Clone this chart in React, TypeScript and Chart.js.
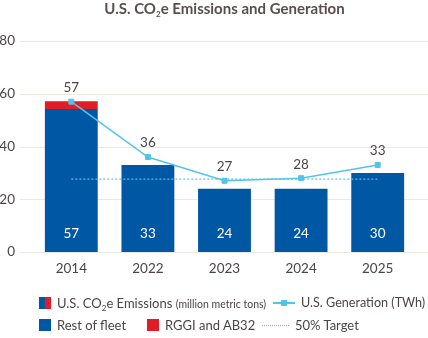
import React, { useEffect, useRef } from "react";
import { Chart, registerables } from "chart.js";

Chart.register(...registerables);

const years = ["2014", "2022", "2023", "2024", "2025"];
const restOfFleet = [54.2, 33, 24, 24, 30];
const rggiAb32 = [3.0, 0, 0, 0, 0];
const generation = [57, 36, 27, 28, 33];
const target = [27.6, 27.6, 27.6, 27.6, 27.6];
const yTicks = [0, 20, 40, 60, 80];

const BLUE = "#0058a5";
const RED = "#e21c26";
const LIGHT = "#52c4ea";
const TEXT = "#4d4545";
const GRID = "#ece9e5";
const FONT = "Lato, 'Open Sans', sans-serif";

const gridPlugin = {
  id: "customGrid",
  beforeDatasetsDraw(chart: any) {
    const y = chart.scales.y;
    const ctx = chart.ctx;
    ctx.save();
    ctx.strokeStyle = GRID;
    ctx.lineWidth = 1;
    y.ticks.forEach((t: any) => {
      const py = Math.round(y.getPixelForValue(t.value)) + 0.5;
      ctx.beginPath();
      ctx.moveTo(20, py);
      ctx.lineTo(chart.width, py);
      ctx.stroke();
    });
    ctx.restore();
  },
};

const labelPlugin = {
  id: "valueLabels",
  afterDatasetsDraw(chart: any) {
    const ctx = chart.ctx;
    const y = chart.scales.y;
    ctx.save();
    ctx.font = `13.5px ${FONT}`;
    ctx.textAlign = "center";
    ctx.textBaseline = "middle";
    const genMeta = chart.getDatasetMeta(0);
    genMeta.data.forEach((pt: any, i: number) => {
      ctx.fillStyle = TEXT;
      ctx.fillText(String(generation[i]), pt.x, pt.y - 14);
    });
    const barMeta = chart.getDatasetMeta(2);
    barMeta.data.forEach((bar: any, i: number) => {
      const total = Math.round(restOfFleet[i] + rggiAb32[i]);
      ctx.fillStyle = "#ffffff";
      ctx.fillText(String(total), bar.x, y.getPixelForValue(0) - 18);
    });
    ctx.restore();
  },
};

export default function App() {
  const ref = useRef<HTMLCanvasElement>(null);

  useEffect(() => {
    if (!ref.current) return;
    const chart = new Chart(ref.current, {
      type: "bar",
      data: {
        labels: years,
        datasets: [
          {
            type: "line",
            label: "U.S. Generation (TWh)",
            data: generation,
            borderColor: LIGHT,
            backgroundColor: LIGHT,
            borderWidth: 1.5,
            pointStyle: "rect",
            pointRadius: 3.5,
            pointBorderWidth: 1,
            pointBackgroundColor: LIGHT,
            pointBorderColor: LIGHT,
            tension: 0,
            stack: "gen",
            order: 0,
          } as any,
          {
            type: "line",
            label: "50% Target",
            data: target,
            borderColor: LIGHT,
            borderWidth: 1.2,
            borderDash: [2, 2],
            pointRadius: 0,
            stack: "tgt",
            order: 1,
          } as any,
          {
            type: "bar",
            label: "Rest of fleet",
            data: restOfFleet,
            backgroundColor: BLUE,
            stack: "em",
            barPercentage: 0.69,
            categoryPercentage: 1,
            order: 2,
          },
          {
            type: "bar",
            label: "RGGI and AB32",
            data: rggiAb32,
            backgroundColor: RED,
            stack: "em",
            barPercentage: 0.69,
            categoryPercentage: 1,
            order: 2,
          },
        ],
      },
      options: {
        responsive: false,
        animation: false,
        layout: { padding: { top: 41, right: 12, left: 0, bottom: 0 } },
        plugins: {
          legend: { display: false },
          tooltip: { enabled: false },
          title: { display: false },
        },
        scales: {
          x: {
            grid: { display: false, drawTicks: false },
            border: { display: false },
            ticks: { color: TEXT, font: { family: FONT, size: 13.5 }, padding: 9 },
            afterFit: (s: any) => {
              s.height = 86;
            },
          },
          y: {
            stacked: true,
            min: 0,
            max: 80,
            grid: { display: false, drawTicks: false },
            border: { display: false },
            afterBuildTicks: (s: any) => {
              s.ticks = yTicks.map((v) => ({ value: v }));
            },
            ticks: {
              color: TEXT,
              font: { family: FONT, size: 13.5 },
              padding: 18,
            },
            afterFit: (s: any) => {
              s.width = 33;
            },
          },
        },
      },
      plugins: [gridPlugin, labelPlugin],
    });
    return () => chart.destroy();
  }, []);

  const text: React.CSSProperties = {
    position: "absolute",
    fontFamily: FONT,
    fontSize: 13,
    color: TEXT,
    whiteSpace: "nowrap",
    lineHeight: "16px",
  };
  const sw = (left: number, top: number, bg: string): React.CSSProperties => ({
    position: "absolute",
    left,
    top,
    width: 12,
    height: 12,
    background: bg,
  });

  return (
    <div style={{ position: "absolute", left: 0, top: 0, width: 428, height: 338, background: "#fff", overflow: "hidden" }}>
      <canvas ref={ref} width={428} height={338} style={{ position: "absolute", left: 0, top: 0, width: 428, height: 338 }} />
      <div style={{ ...text, left: 0, width: 449, top: -1, textAlign: "center", fontWeight: 700, fontSize: 15, lineHeight: "18px", color: "#5a4e4e" }}>
        U.S. CO<sub style={{ fontSize: 8, verticalAlign: "-3px" }}>2</sub>e Emissions and Generation
      </div>
      <div style={{ position: "absolute", left: 39, top: 297, width: 12, height: 12, background: `linear-gradient(90deg, ${BLUE} 50%, ${RED} 50%)` }} />
      <div style={{ ...text, left: 57, top: 295 }}>
        U.S. CO<sub style={{ fontSize: 8, verticalAlign: "-3px" }}>2</sub>e Emissions{" "}
        <span style={{ fontSize: 10.5 }}>(million metric tons)</span>
      </div>
      <div style={{ position: "absolute", left: 273, top: 302, width: 22, height: 1.5, background: LIGHT }} />
      <div style={{ position: "absolute", left: 281, top: 300, width: 6, height: 6, background: LIGHT }} />
      <div style={{ ...text, left: 301, top: 295, fontSize: 12.6 }}>U.S. Generation (TWh)</div>
      <div style={sw(39, 319, BLUE)} />
      <div style={{ ...text, left: 57, top: 317 }}>Rest of fleet</div>
      <div style={sw(147, 319, RED)} />
      <div style={{ ...text, left: 165, top: 317 }}>RGGI and AB32</div>
      <div style={{ position: "absolute", left: 262, top: 325, width: 27, height: 0, borderTop: `1px dotted ${LIGHT}` }} />
      <div style={{ ...text, left: 295, top: 317 }}>50% Target</div>
    </div>
  );
}
